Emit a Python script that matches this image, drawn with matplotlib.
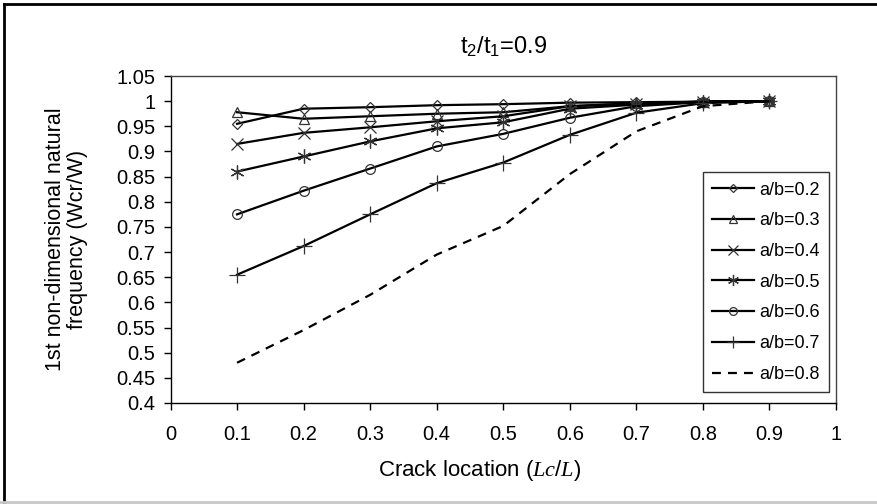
import matplotlib
matplotlib.use("Agg")
import matplotlib.pyplot as plt
from matplotlib.lines import Line2D
from matplotlib.ticker import FuncFormatter

plt.rcParams['font.family'] = ['Liberation Sans', 'DejaVu Sans']
plt.rcParams['mathtext.fontset'] = 'custom'
plt.rcParams['mathtext.rm'] = 'Liberation Sans'
plt.rcParams['mathtext.it'] = 'Liberation Serif:italic'

crack_location = [0.1, 0.2, 0.3, 0.4, 0.5, 0.6, 0.7, 0.8, 0.9]
ab_02 = [0.955, 0.985, 0.988, 0.992, 0.994, 0.997, 0.998, 0.999, 1.0]
ab_03 = [0.978, 0.965, 0.970, 0.975, 0.978, 0.990, 0.996, 0.999, 1.0]
ab_04 = [0.915, 0.937, 0.948, 0.960, 0.970, 0.990, 0.995, 0.999, 1.0]
ab_05 = [0.860, 0.890, 0.920, 0.946, 0.958, 0.985, 0.993, 0.999, 1.0]
ab_06 = [0.775, 0.822, 0.866, 0.910, 0.935, 0.967, 0.990, 0.998, 1.0]
ab_07 = [0.655, 0.712, 0.775, 0.837, 0.878, 0.933, 0.977, 0.996, 1.0]
ab_08 = [0.480, 0.545, 0.615, 0.695, 0.752, 0.855, 0.940, 0.990, 1.0]

labels = ['a/b=0.2', 'a/b=0.3', 'a/b=0.4', 'a/b=0.5', 'a/b=0.6', 'a/b=0.7', 'a/b=0.8']
series = [ab_02, ab_03, ab_04, ab_05, ab_06, ab_07, ab_08]
markers = ['D', '^', 'x', (6, 2, 0), 'o', '+', None]
msizes = [5, 6.5, 9, 10, 7, 11, 0]

fig = plt.figure(figsize=(8.78, 5.04), dpi=100)
ax = fig.add_axes([0.1942, 0.2004, 0.9522 - 0.1942, 0.8492 - 0.2004])

for ys, lab, mk, ms in zip(series, labels, markers, msizes):
    if mk is None:
        ax.plot(crack_location, ys, color='black', lw=1.6, ls=(0, (4, 3.2)), label=lab)
    else:
        ax.plot(crack_location, ys, color='black', lw=1.6, marker=mk, ms=ms,
                mfc='none', mec='#333333', mew=0.9, label=lab)

ax.set_xlim(0, 1)
ax.set_ylim(0.4, 1.05)
ax.set_xticks([i / 10 for i in range(11)])
ax.set_yticks([0.4 + 0.05 * i for i in range(14)])
fmt = FuncFormatter(lambda v, p: ('%.2f' % v).rstrip('0').rstrip('.'))
ax.xaxis.set_major_formatter(fmt)
ax.yaxis.set_major_formatter(fmt)
ax.tick_params(direction='out', length=5, width=1, labelsize=14.5, colors='black')
ax.tick_params(axis='x', pad=11)
ax.tick_params(axis='y', pad=6)
for s in ax.spines.values():
    s.set_color('#444444')
    s.set_linewidth(1)
ax.spines['left'].set_color('black')
ax.spines['bottom'].set_color('black')

ax.set_title('t$_{2}$/t$_{1}$=0.9', fontsize=17, pad=16)
ax.set_xlabel('Crack location ($Lc/L$)', fontsize=16, labelpad=10, x=0.465)
ax.set_ylabel('1st non-dimensional natural\nfrequency (Wcr/W)', fontsize=15.5, labelpad=20, linespacing=1.1)

leg = ax.legend(loc='lower right', bbox_to_anchor=(0.9895, 0.034), fontsize=13, frameon=True,
                fancybox=False, edgecolor='black', handlelength=2.3, labelspacing=0.76,
                borderpad=0.5, handletextpad=0.3, borderaxespad=0, markerscale=0.8)
leg.get_frame().set_linewidth(1)

# figure border
fig.add_artist(Line2D([0.004, 0.004], [0.004, 0.992], color='black', lw=2, transform=fig.transFigure))
fig.add_artist(Line2D([0.004, 1.0], [0.992, 0.992], color='black', lw=2, transform=fig.transFigure))
fig.add_artist(Line2D([0.0, 1.0], [0.004, 0.004], color='#c8c8c8', lw=2, transform=fig.transFigure))

fig.savefig('out.png', dpi=100)
